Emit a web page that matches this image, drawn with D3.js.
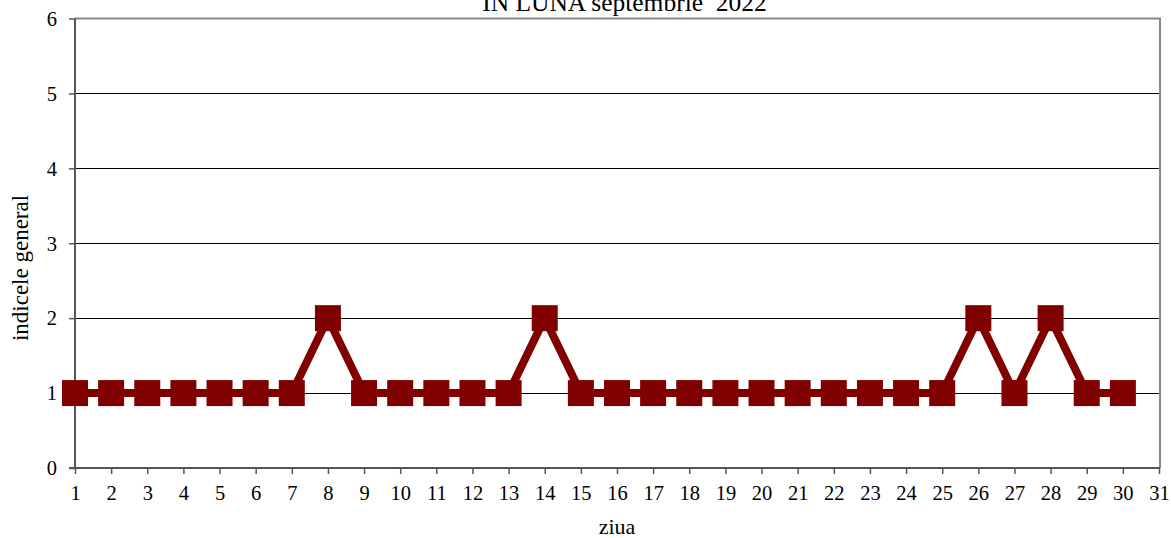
<!DOCTYPE html>
<html><head><meta charset="utf-8">
<script src="https://cdn.jsdelivr.net/npm/d3@7"></script>
<style>body{margin:0;background:#fff}svg{display:block}text{font-family:"Liberation Serif","Times New Roman",serif;white-space:pre}</style>
</head><body><svg id="c" width="1171" height="538"></svg>
<script>
const days = d3.range(1, 31);
const values = [1,1,1,1,1,1,1,2,1,1,1,1,1,2,1,1,1,1,1,1,1,1,1,1,1,2,1,2,1,1];
const xTicks = d3.range(1, 32);
const yTicks = [0,1,2,3,4,5,6];
const title = "IN LUNA septembrie  2022";
const xTitle = "ziua";
const yTitle = "indicele general";

const svg = d3.select("#c");
const L = 75, R = 1159, T = 18.5, B = 468;
const x = d3.scaleLinear().domain([1, 31]).range([L, R]);
const y = d3.scaleLinear().domain([0, 6]).range([B, T]);

// gridlines
svg.append("g").selectAll("line").data(yTicks.filter(v => v > 0 && v < 6)).join("line")
  .attr("x1", L).attr("x2", R).attr("y1", d => Math.round(y(d)) + 0.5).attr("y2", d => Math.round(y(d)) + 0.5)
  .attr("stroke", "#000").attr("stroke-width", 1);

// top & right border
svg.append("path").attr("d", `M${L},${T} H${R + 1} V${B}`).attr("fill", "none").attr("stroke", "#888").attr("stroke-width", 2);

// y axis
const ya = svg.append("g").attr("transform", `translate(${L},0)`)
  .call(d3.axisLeft(y).tickValues(yTicks).tickSize(6).tickPadding(12).tickFormat(d3.format("d")));
ya.select(".domain").attr("stroke", "#555").attr("stroke-width", 2).attr("d", `M0,${T}V${B}`);
ya.selectAll(".tick line").attr("stroke", "#555").attr("stroke-width", 1.5);
ya.selectAll("text").attr("font-size", 20.5).attr("fill", "#000").attr("dy", "0.33em");

// x axis
const xa = svg.append("g").attr("transform", `translate(0,${B})`)
  .call(d3.axisBottom(x).tickValues(xTicks).tickSize(6).tickPadding(11).tickFormat(d3.format("d")));
xa.select(".domain").attr("stroke", "#555").attr("stroke-width", 2).attr("d", `M${L - 6},0H${R + 1}`);
xa.selectAll(".tick line").attr("stroke", "#555").attr("stroke-width", 1.5);
xa.selectAll("text").attr("font-size", 20.5).attr("fill", "#000");

// line
const data = days.map((d, i) => ({d, v: values[i]}));
svg.append("path").datum(data)
  .attr("d", d3.line().x(p => x(p.d)).y(p => y(p.v)))
  .attr("fill", "none").attr("stroke", "#800000").attr("stroke-width", 8).attr("stroke-linejoin", "miter");

// markers
const S = 26;
svg.append("g").selectAll("rect").data(data).join("rect")
  .attr("x", p => x(p.d) - S / 2).attr("y", p => y(p.v) - S / 2)
  .attr("width", S).attr("height", S).attr("fill", "#800000");

// titles
svg.append("text").attr("x", 624.5).attr("y", 11).attr("text-anchor", "middle").attr("font-size", 25.5).text(title);
svg.append("text").attr("x", 617).attr("y", 534).attr("text-anchor", "middle").attr("font-size", 22).text(xTitle);
svg.append("text").attr("transform", "translate(28,268) rotate(-90)").attr("text-anchor", "middle").attr("font-size", 23).text(yTitle);
</script></body></html>
